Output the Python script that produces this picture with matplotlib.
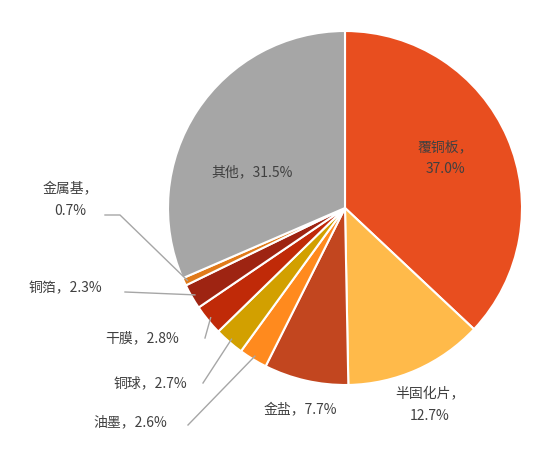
import matplotlib
matplotlib.use("Agg")
import matplotlib.pyplot as plt
import numpy as np

plt.rcParams['font.family'] = ['Noto Sans CJK SC', 'DejaVu Sans']

labels = ['覆铜板', '半固化片', '金盐', '油墨', '铜球', '干膜', '铜箔', '金属基', '其他']
values = [37.0, 12.7, 7.7, 2.6, 2.7, 2.8, 2.3, 0.7, 31.5]
colors = ['#E84E1F', '#FFBA4A', '#C2461F', '#FF8A1E', '#D2A000', '#C02A08', '#9E2412', '#E07A1A', '#A6A6A6']

fig = plt.figure(figsize=(5.5, 4.59), dpi=100)
CX, CY, R = 345, 208, 177
ax = fig.add_axes([(CX - R) / 550, (459 - CY - R) / 459, 2 * R / 550, 2 * R / 459])
wedges, _ = ax.pie(values, colors=colors, startangle=90, counterclock=False,
                   wedgeprops=dict(edgecolor='white', linewidth=1.5))
ax.set_xlim(-1, 1); ax.set_ylim(-1, 1)
ax.set_aspect('equal')

def px(x, y):
    return ((x - CX) / R, (CY - y) / R)

tc = '#404040'
fs = 10
two = {'覆铜板': (445, 158), '半固化片': (430, 405)}
one = {'其他': (252, 172), '金盐': (300, 410)}
for i, lab in enumerate(labels):
    if lab in two:
        ax.text(*px(*two[lab]), f'{lab}，\n{values[i]:.1f}%', ha='center', va='center',
                fontsize=fs, color=tc, linespacing=1.7)
    elif lab in one:
        ax.text(*px(*one[lab]), f'{lab}，{values[i]:.1f}%', ha='center', va='center',
                fontsize=fs, color=tc)

left = {
    '金属基': ((70, 200), (105, 215), (120, 215)),
    '铜箔': ((65, 288), (125, 292), (125, 292)),
    '干膜': ((142, 338), (205, 338), (205, 338)),
    '铜球': ((150, 383), (203, 383), (203, 383)),
    '油墨': ((130, 422), (188, 425), (188, 425)),
}
for i, lab in enumerate(labels):
    if lab not in left:
        continue
    w = wedges[i]
    ang = np.deg2rad((w.theta1 + w.theta2) / 2)
    ex, ey = 0.98 * np.cos(ang), 0.98 * np.sin(ang)
    tpos, lstart, elbow = left[lab]
    if lab == '金属基':
        ax.text(*px(*tpos), f'{lab}，\n{values[i]:.1f}%', ha='center', va='center',
                fontsize=fs, color=tc, linespacing=1.7)
    else:
        ax.text(*px(*tpos), f'{lab}，{values[i]:.1f}%', ha='center', va='center',
                fontsize=fs, color=tc)
    x0, y0 = px(*lstart)
    x1, y1 = px(*elbow)
    ax.plot([x0, x1, ex], [y0, y1, ey], color='#A6A6A6', lw=1, clip_on=False)

fig.savefig('out.png', dpi=100)
